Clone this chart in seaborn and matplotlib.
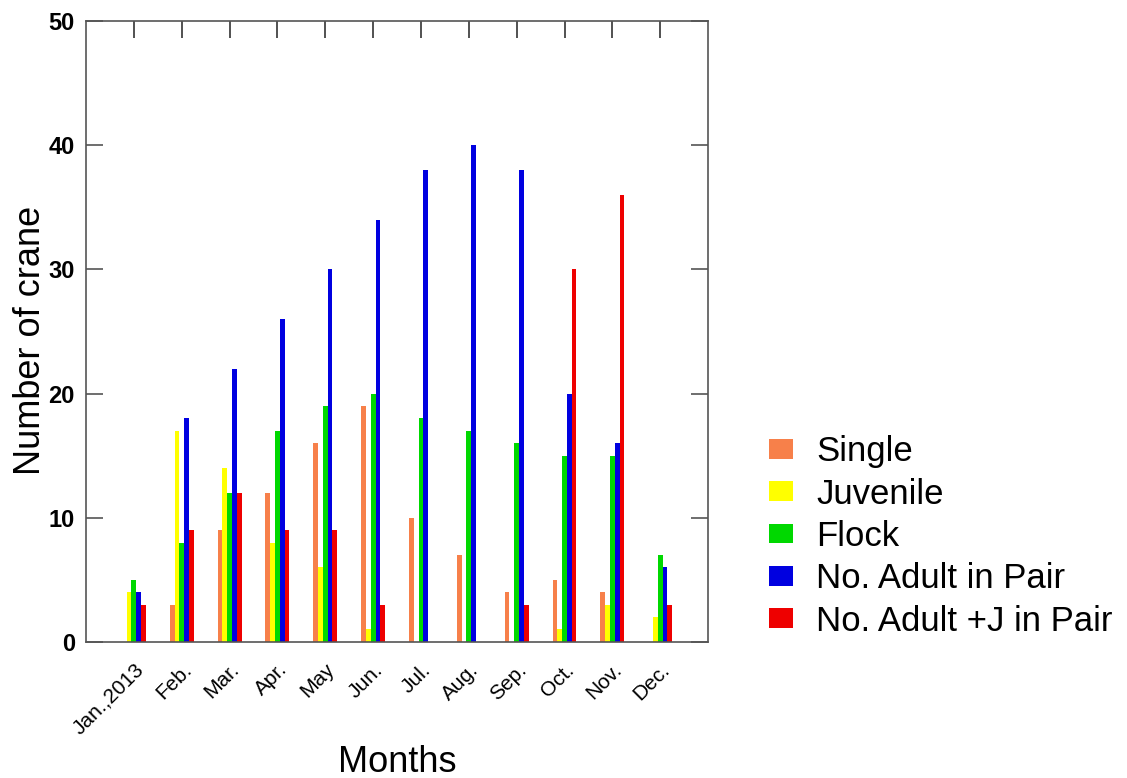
import numpy as np
import pandas as pd
import matplotlib
matplotlib.use("Agg")
import matplotlib.pyplot as plt
import seaborn as sns

# datos
meses = ["Jan.,2013", "Feb.", "Mar.", "Apr.", "May", "Jun.", "Jul.", "Aug.",
         "Sep.", "Oct.", "Nov.", "Dec."]
single = [0, 3, 9, 12, 16, 19, 10, 7, 4, 5, 4, 0]
juvenile = [4, 17, 14, 8, 6, 1, 0, 0, 0, 1, 3, 2]
flock = [5, 8, 12, 17, 19, 20, 18, 17, 16, 15, 15, 7]
adult_pair = [4, 18, 22, 26, 30, 34, 38, 40, 38, 20, 16, 6]
adult_j_pair = [3, 9, 12, 9, 9, 3, 0, 0, 3, 30, 36, 3]

categorias = ["Single", "Juvenile", "Flock", "No. Adult in Pair", "No. Adult +J in Pair"]
colores = ["#F7804A", "#FFFF00", "#00D800", "#0000E0", "#EE0000"]

series = [single, juvenile, flock, adult_pair, adult_j_pair]
df = pd.DataFrame({
    "mes": np.tile(meses, len(categorias)),
    "cat": np.repeat(categorias, len(meses)),
    "valor": np.concatenate(series),
})

sns.set_style("white")
plt.rcParams["font.family"] = ["Liberation Sans", "DejaVu Sans"]
plt.rcParams["text.color"] = "black"
plt.rcParams["axes.labelcolor"] = "black"
plt.rcParams["xtick.color"] = "black"
plt.rcParams["ytick.color"] = "black"

fig = plt.figure(figsize=(11.27, 7.78), dpi=100)
ax = fig.add_axes([0.0763, 0.175, 0.552, 0.798])

sns.barplot(data=df, x="mes", y="valor", hue="cat", hue_order=categorias,
            order=meses, palette=colores, width=0.5, saturation=1,
            errorbar=None, linewidth=0, ax=ax)

ax.set_xlim(-1, 12)
ax.set_ylim(0, 50)
ax.set_yticks(range(0, 51, 10))
ax.set_yticklabels([str(v) for v in range(0, 51, 10)], fontsize=17, fontweight="bold")

ax.tick_params(axis="x", bottom=False, top=True, labelbottom=True, direction="in",
               length=12, width=1.2, color="#333333", pad=13)
ax.tick_params(axis="y", left=True, right=True, direction="in", length=12,
               width=1.2, color="#555555", pad=8)
ax.set_xticks(range(len(meses)))
ax.set_xticklabels(meses, rotation=45, ha="right", rotation_mode="anchor", fontsize=15)

for s in ax.spines.values():
    s.set_visible(True)
    s.set_color("#555555")
    s.set_linewidth(1.2)

ax.set_xlabel("Months", fontsize=26)
ax.xaxis.set_label_coords(0.5, -0.166)
ax.set_ylabel("Number of crane", fontsize=26)
ax.yaxis.set_label_coords(-0.061, 0.486)

ax.legend(loc="upper left", bbox_to_anchor=(0.667, 0.463), bbox_transform=fig.transFigure,
          frameon=False, fontsize=25, handlelength=0.7, handleheight=0.5,
          handletextpad=0.65, labelspacing=0.27, borderpad=0, title=None)

fig.savefig("out.png", dpi=100)
